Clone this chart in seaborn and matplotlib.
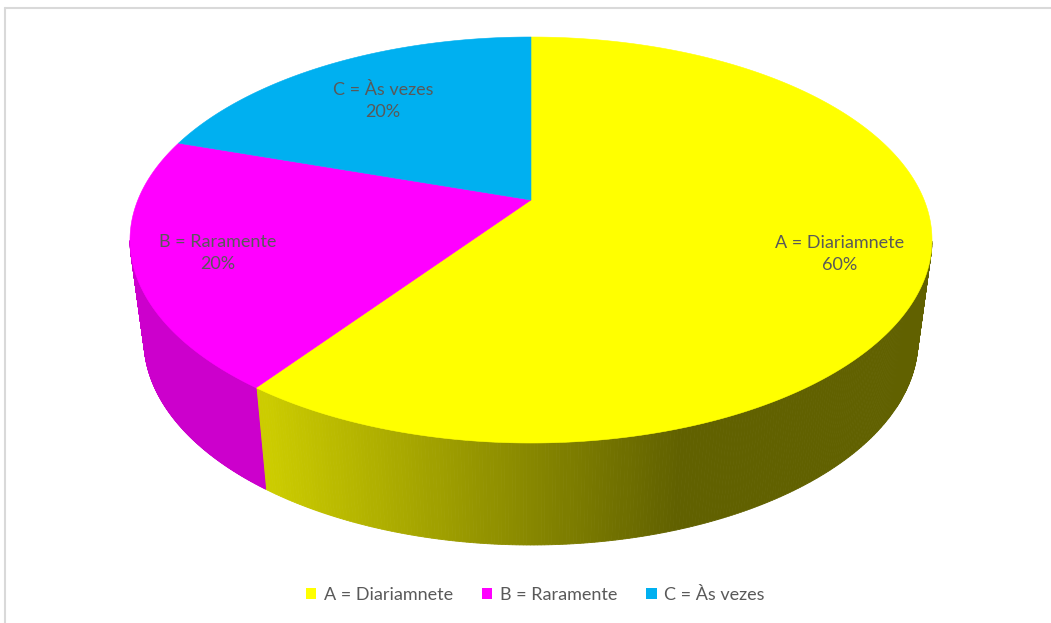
import numpy as np
import matplotlib
matplotlib.use("Agg")
import matplotlib.pyplot as plt
from matplotlib.patches import Polygon, Patch
from matplotlib.lines import Line2D
import seaborn as sns

categories = ["A = Diariamnete", "B = Raramente", "C = Às vezes"]
values = [60, 20, 20]
colors = ["#FFFF00", "#FF00FF", "#00B0F0"]
pct_labels = ["60%", "20%", "20%"]

sns.set_theme(style="white")
plt.rcParams['font.family'] = ['Lato', 'DejaVu Sans']

W, H = 1051, 623
fig = plt.figure(figsize=(W / 100, H / 100), dpi=100)
ax = fig.add_axes([0, 0, 1, 1])
ax.set_xlim(0, W)
ax.set_ylim(H, 0)
ax.axis('off')

# 3D disc layout (perspective view of a cylinder)
CX = 531
TOP = dict(cy=240, a=401, b=203)
BOT = dict(cy=340, a=387, b=205)
k = 0.197  # perspective shift of the disc centre towards the back

def project(theta_deg, face):
    t = np.radians(theta_deg)
    den = k * np.sin(t) + 1.0
    u = np.cos(t) / den * np.sqrt(1 - k * k)
    v = (np.sin(t) + k) / den
    return CX + face['a'] * u, face['cy'] - face['b'] * v

apex = (CX, TOP['cy'] - TOP['b'] * k)

def shade(px):
    return np.clip(0.8 - 0.42 * (px - 265) / (680 - 265), 0.38, 0.8)

total = float(sum(values))
start = 90.0
for v, col in zip(values, colors):
    end = start - 360.0 * v / total
    th = np.linspace(start, end, 500)
    base = np.array(matplotlib.colors.to_rgb(col))
    # side wall (front part only)
    vis = (np.sin(np.radians(th)) + k) < 0
    xt, yt = project(th, TOP)
    xb, yb = project(th, BOT)
    for i in range(len(th) - 1):
        if not (vis[i] and vis[i + 1]):
            continue
        pts = [(xt[i], yt[i]), (xt[i + 1], yt[i + 1]),
               (xb[i + 1], yb[i + 1]), (xb[i], yb[i])]
        c = base * shade(0.5 * (xt[i] + xt[i + 1]))
        ax.add_patch(Polygon(pts, closed=True, facecolor=c, edgecolor=c,
                             linewidth=0.6, zorder=1))
    # top face
    pts = [apex] + list(zip(xt, yt))
    ax.add_patch(Polygon(pts, closed=True, facecolor=col, edgecolor=col,
                         linewidth=0.4, zorder=3))
    start = end

# data labels
label_px = [(840, 254), (218, 253), (383, 101)]
for (lx, ly), cat, p in zip(label_px, categories, pct_labels):
    ax.text(lx, ly, f"{cat}\n{p}", ha='center', va='center',
            fontsize=13, color='#595959', linespacing=1.45, zorder=5)

handles = [Patch(facecolor=c, edgecolor='none') for c in colors]
fig.legend(handles, categories, loc='center', bbox_to_anchor=(535 / W, 1 - 595 / H),
           ncol=3, frameon=False, fontsize=13, handlelength=0.6, handleheight=0.6,
           handletextpad=0.4, columnspacing=1.6, labelcolor='#595959')

# chart frame
fig.add_artist(Line2D([5 / W, 5 / W], [0, 1 - 8 / H], color='#d9d9d9', lw=1.5))
fig.add_artist(Line2D([5 / W, 1], [1 - 8 / H, 1 - 8 / H], color='#d9d9d9', lw=1.5))

fig.savefig("out.png", dpi=100, facecolor='white')
